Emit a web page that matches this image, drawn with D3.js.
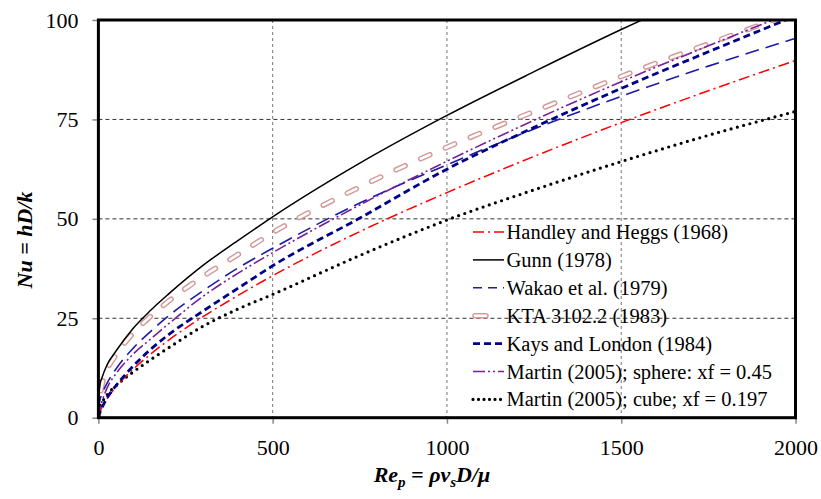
<!DOCTYPE html>
<html>
<head>
<meta charset="utf-8">
<script src="https://cdn.jsdelivr.net/npm/d3@7"></script>
<style>
  body { margin: 0; background: #fff; }
  svg text { font-family: "Liberation Serif", "DejaVu Serif", serif !important; fill: #000; }
</style>
</head>
<body>
<div id="chart"></div>
<script>
const re = [0, 5, 10, 25, 50, 100, 150, 200, 300, 400, 500, 750, 1000, 1250, 1500, 1750, 2000];

// Nu, one array per correlation
const handley = [0, 1.7, 2.6, 4.8, 7.7, 12.2, 16, 19.4, 25.4, 30.7, 35.7, 46.8, 56.6, 65.7, 74.2, 82.2, 89.8];
const gunn = [3.8, 8.6, 10, 13.3, 16.7, 22.5, 27, 31, 38.3, 44.5, 50.5, 64, 76, 87, 97.6, 107.5, 117];
const wakao = [2, 4.6, 5.9, 8.7, 12.2, 17.5, 21.7, 25.5, 31.9, 37.6, 42.6, 54, 63.6, 72.6, 80.8, 88.4, 95.4];
const kta = [0, 5.5, 8, 12, 15.7, 21.3, 25.5, 29.2, 35.5, 41, 46.5, 58, 68, 77, 85.8, 94, 102];
const kays = [0, 1.6, 2.5, 5, 8, 13, 17.2, 20.8, 26.8, 32.5, 38.2, 50.2, 62.5, 73, 82.8, 92, 101];
const martinSphere = [0, 2.5, 4, 7.5, 11, 16, 19.8, 23.5, 30.5, 36.3, 41.5, 53.5, 64.5, 74.8, 84.5, 93.5, 102.3];
const martinCube = [1.5, 3, 3.8, 5.8, 8, 11.5, 14.6, 17.5, 23, 27.3, 31, 40.8, 49.7, 57.3, 64.4, 71, 77];

const labels = [
  "Handley and Heggs (1968)",
  "Gunn (1978)",
  "Wakao et al. (1979)",
  "KTA 3102.2 (1983)",
  "Kays and London (1984)",
  "Martin (2005); sphere: xf = 0.45",
  "Martin (2005); cube; xf = 0.197"
];

const xTicks = [0, 500, 1000, 1500, 2000];
const yTicks = [0, 25, 50, 75, 100];

;(function () {
  const W = 821, H = 499;
  const margin = { top: 20, right: 25.5, bottom: 81.3, left: 98.4 };
  const width = W - margin.left - margin.right,
      height = H - margin.top - margin.bottom;
  const serif = '"Liberation Serif", "DejaVu Serif", serif';

  const root = d3.select("#chart")
    .append("svg")
    .attr("width", W)
    .attr("height", H)
    .attr("font-family", serif);

  const svg = root.append("g")
    .attr("transform", "translate(" + margin.left + "," + margin.top + ")");

  const x = d3.scaleLinear().domain([0, 2000]).range([0, width]);
  const y = d3.scaleLinear().domain([0, 100]).range([height, 0]);

  // gridlines
  svg.append("g").selectAll("line")
    .data([500, 1000, 1500])
    .join("line")
    .attr("x1", d => x(d)).attr("x2", d => x(d))
    .attr("y1", 0).attr("y2", height)
    .attr("stroke", "#777")
    .attr("stroke-width", 1)
    .attr("stroke-dasharray", "3,3");

  svg.append("g").selectAll("line")
    .data([25, 50, 75])
    .join("line")
    .attr("x1", 0).attr("x2", width)
    .attr("y1", d => y(d)).attr("y2", d => y(d))
    .attr("stroke", "#333")
    .attr("stroke-width", 1)
    .attr("stroke-dasharray", "4,3");

  // axes
  const yAxis = d3.axisLeft(y).tickValues(yTicks).tickSize(6).tickPadding(14);
  const gy = svg.append("g").attr("class", "axis y-axis").call(yAxis);
  const xAxis = d3.axisBottom(x).tickValues(xTicks).tickFormat(d3.format("d"))
    .tickSize(6).tickPadding(16);
  const gx = svg.append("g").attr("class", "axis x-axis")
    .attr("transform", "translate(0," + height + ")")
    .call(xAxis);

  [gx, gy].forEach(g => {
    g.attr("font-family", serif).attr("font-size", 22);
    g.select(".domain").remove();
    g.selectAll(".tick line").attr("stroke", "#888").attr("stroke-width", 1.5);
    g.selectAll(".tick text").attr("fill", "#000");
  });

  // curves
  svg.append("clipPath").attr("id", "plot-clip")
    .append("rect").attr("width", width).attr("height", height);

  const lineGen = d3.line()
    .x(d => x(d[0]))
    .y(d => y(d[1]))
    .curve(d3.curveMonotoneX);

  const series = [
    { name: labels[0], values: handley, strokes: [{ color: "#ff0000", w: 1.5, dash: "11,4,2,4" }] },
    { name: labels[1], values: gunn, strokes: [{ color: "#000", w: 1.5, dash: null }] },
    { name: labels[2], values: wakao, strokes: [{ color: "#1c1ca6", w: 1.6, dash: "14,7" }] },
    { name: labels[3], values: kta, strokes: [
        { color: "#d49a9a", w: 5.5, dash: "10,17", cap: "round" },
        { color: "#fff", w: 2.6, dash: "10,17", cap: "round" }
      ] },
    { name: labels[4], values: kays, strokes: [{ color: "#00008b", w: 2.8, dash: "7,4" }] },
    { name: labels[5], values: martinSphere, strokes: [{ color: "#7a1f9a", w: 1.6, dash: "12,3,2,3,2,3" }] },
    { name: labels[6], values: martinCube, strokes: [{ color: "#000", w: 3.2, dash: "0,6.5", cap: "round" }] }
  ];

  const curves = svg.append("g").attr("clip-path", "url(#plot-clip)");
  // draw order: pale KTA first so the others sit on top
  const order = [3, 1, 6, 0, 2, 5, 4];
  order.forEach(i => {
    const s = series[i];
    const pts = re.map((r, k) => [r, s.values[k]]);
    s.strokes.forEach(st => {
      curves.append("path")
        .datum(pts)
        .attr("d", lineGen)
        .attr("fill", "none")
        .attr("stroke", st.color)
        .attr("stroke-width", st.w)
        .attr("stroke-linecap", st.cap || "butt")
        .attr("stroke-dasharray", st.dash);
    });
  });

  // plot frame
  svg.append("rect")
    .attr("width", width).attr("height", height)
    .attr("fill", "none")
    .attr("stroke", "#000")
    .attr("stroke-width", 3);

  // legend
  const legend = root.append("g").attr("transform", "translate(473,232)");
  series.forEach((s, i) => {
    const row = legend.append("g").attr("transform", "translate(0," + (i * 27.9) + ")");
    if (i === 3) {
      s.strokes.forEach(st => {
        row.append("line")
          .attr("x1", 2).attr("x2", 13).attr("y1", 0).attr("y2", 0)
          .attr("stroke", st.color).attr("stroke-width", st.w)
          .attr("stroke-linecap", "round");
      });
    } else {
      s.strokes.forEach(st => {
        row.append("line")
          .attr("x1", 0).attr("x2", 31).attr("y1", 0).attr("y2", 0)
          .attr("stroke", st.color).attr("stroke-width", st.w)
          .attr("stroke-linecap", st.cap || "butt")
          .attr("stroke-dasharray", i === 6 ? "0,5.5" : (i === 2 ? "9,6" : st.dash));
      });
    }
    row.append("text")
      .attr("x", 33.5)
      .attr("y", 7)
      .attr("font-size", 20.5)
      .text(s.name);
  });

  // axis titles
  const xt = root.append("text")
    .attr("x", 432)
    .attr("y", 482)
    .attr("text-anchor", "middle")
    .attr("font-size", 22)
    .attr("font-weight", "bold")
    .attr("font-style", "italic");
  xt.append("tspan").text("Re");
  xt.append("tspan").attr("dy", 5).attr("font-size", 15).text("p");
  xt.append("tspan").attr("dy", -5).text(" = ρv");
  xt.append("tspan").attr("dy", 5).attr("font-size", 15).text("s");
  xt.append("tspan").attr("dy", -5).text("D/μ");

  root.append("text")
    .attr("transform", "translate(32,240) rotate(-90)")
    .attr("text-anchor", "middle")
    .attr("font-size", 22)
    .attr("font-weight", "bold")
    .attr("font-style", "italic")
    .text("Nu = hD/k");
})()
</script>
</body>
</html>
